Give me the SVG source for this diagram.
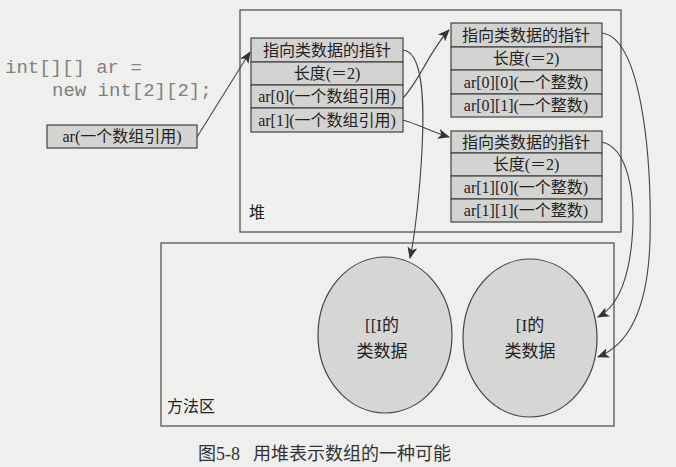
<svg xmlns="http://www.w3.org/2000/svg" width="676" height="467" viewBox="0 0 676 467">
<defs>
<style>
.bg{fill:#efefed}
.frame{fill:none;stroke:#555;stroke-width:1.3}
.cell{fill:#d3d3d1;stroke:#444;stroke-width:1.2}
.ell{fill:#d6d6d4;stroke:#444;stroke-width:1.2}
.t{font-family:"Liberation Serif","Noto Sans CJK SC",serif;font-size:16px;fill:#222;text-anchor:middle}
.te{font-family:"Liberation Serif","Noto Sans CJK SC",serif;font-size:17px;fill:#222;text-anchor:middle}
.lbl{font-family:"Liberation Serif","Noto Sans CJK SC",serif;font-size:16px;fill:#222}
.code{font-family:"Liberation Mono",monospace;font-size:19px;fill:#808080}
.cap{font-family:"Liberation Serif","Noto Sans CJK SC",serif;font-size:18px;fill:#333}
.conn{fill:none;stroke:#444;stroke-width:1.1}
</style>
<marker id="arr" viewBox="0 0 12 10" refX="11" refY="5" markerWidth="12" markerHeight="10" markerUnits="userSpaceOnUse" orient="auto">
<path d="M0,0 L12,5 L0,10 L3,5 Z" fill="#333"/>
</marker>
</defs>
<rect class="bg" x="0" y="0" width="676" height="467"/>

<g id="code">
<text class="code" x="5" y="73">int[][] ar =</text>
<text class="code" x="52" y="96">new int[2][2];</text>
</g>

<g id="heap">
<rect class="frame" x="240" y="10" width="381" height="222"/>
<text class="lbl" x="249" y="218">堆</text>
</g>

<g id="method-area">
<rect class="frame" x="161" y="243" width="453" height="183"/>
<text class="lbl" x="167" y="412">方法区</text>
</g>

<g id="ar">
<rect class="cell" x="47" y="125" width="150" height="23"/>
<text class="t" x="122" y="142">ar(一个数组引用)</text>
</g>

<g id="array-ar">
<rect class="cell" x="251" y="38" width="152" height="24"/>
<text class="t" x="327" y="56">指向类数据的指针</text>
<rect class="cell" x="251" y="62" width="152" height="23"/>
<text class="t" x="327" y="79">长度(＝2)</text>
<rect class="cell" x="251" y="85" width="152" height="23"/>
<text class="t" x="327" y="102">ar[0](一个数组引用)</text>
<rect class="cell" x="251" y="108" width="152" height="24"/>
<text class="t" x="327" y="126">ar[1](一个数组引用)</text>
</g>

<g id="array-ar0">
<rect class="cell" x="451" y="23" width="151" height="24"/>
<text class="t" x="526" y="41">指向类数据的指针</text>
<rect class="cell" x="451" y="47" width="151" height="23"/>
<text class="t" x="526" y="64">长度(＝2)</text>
<rect class="cell" x="451" y="70" width="151" height="24"/>
<text class="t" x="526" y="88">ar[0][0](一个整数)</text>
<rect class="cell" x="451" y="94" width="151" height="23"/>
<text class="t" x="526" y="111">ar[0][1](一个整数)</text>
</g>

<g id="array-ar1">
<rect class="cell" x="451" y="131" width="151" height="22"/>
<text class="t" x="526" y="148">指向类数据的指针</text>
<rect class="cell" x="451" y="153" width="151" height="23"/>
<text class="t" x="526" y="170">长度(＝2)</text>
<rect class="cell" x="451" y="176" width="151" height="23"/>
<text class="t" x="526" y="193">ar[1][0](一个整数)</text>
<rect class="cell" x="451" y="199" width="151" height="23"/>
<text class="t" x="526" y="216">ar[1][1](一个整数)</text>
</g>

<g id="class-2d">
<ellipse class="ell" cx="385" cy="335" rx="67" ry="78"/>
<text class="te" x="382" y="331">[[I的</text>
<text class="te" x="382" y="357">类数据</text>
</g>

<g id="class-1d">
<ellipse class="ell" cx="530" cy="338" rx="67" ry="79"/>
<text class="te" x="530" y="331">[I的</text>
<text class="te" x="530" y="357">类数据</text>
</g>

<g id="connectors">
<path class="conn" d="M197,137 L250,52" marker-end="url(#arr)"/>
<path class="conn" d="M403,98 C420,80 430,50 449,30" marker-end="url(#arr)"/>
<path class="conn" d="M403,120 C420,125 432,132 449,137" marker-end="url(#arr)"/>
<path class="conn" d="M403,50 C428,52 424,130 420,180 C417,215 414,240 410,258" marker-end="url(#arr)"/>
<path class="conn" d="M602,33 C640,38 652,150 650,240 C648,310 628,345 598,357" marker-end="url(#arr)"/>
<path class="conn" d="M602,142 C628,148 636,195 632,240 C628,285 615,308 598,317" marker-end="url(#arr)"/>
</g>

<g id="caption">
<text class="cap" x="198" y="460">图5-8</text>
<text class="cap" x="253" y="460">用堆表示数组的一种可能</text>
</g>
</svg>
